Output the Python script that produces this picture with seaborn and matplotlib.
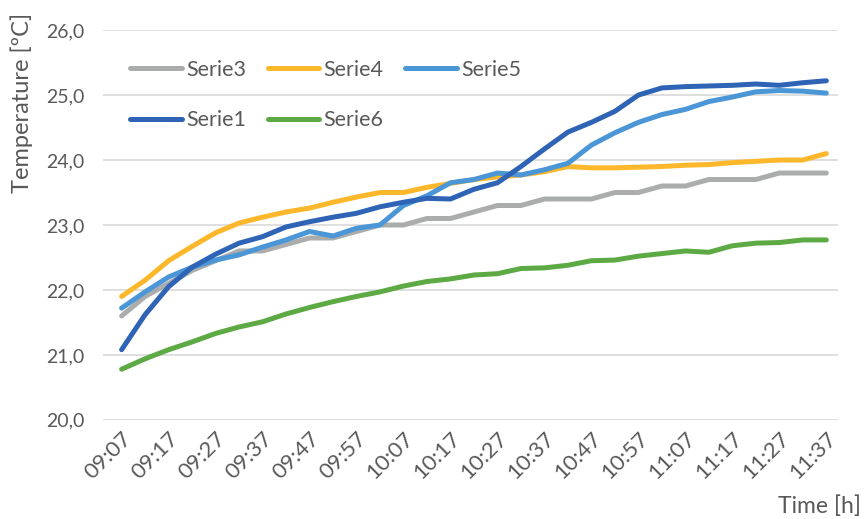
import pandas as pd
import matplotlib
matplotlib.use("Agg")
import matplotlib.pyplot as plt
import seaborn as sns
from matplotlib.ticker import FuncFormatter

# time stamps (every 5 minutes)
times = ["09:07", "09:12", "09:17", "09:22", "09:27", "09:32", "09:37", "09:42",
         "09:47", "09:52", "09:57", "10:02", "10:07", "10:12", "10:17", "10:22",
         "10:27", "10:32", "10:37", "10:42", "10:47", "10:52", "10:57", "11:02",
         "11:07", "11:12", "11:17", "11:22", "11:27", "11:32", "11:37"]

serie3 = [21.6, 21.9, 22.1, 22.3, 22.45, 22.6, 22.6, 22.7, 22.8, 22.8, 22.9, 23.0,
          23.0, 23.1, 23.1, 23.2, 23.3, 23.3, 23.4, 23.4, 23.4, 23.5, 23.5, 23.6,
          23.6, 23.7, 23.7, 23.7, 23.8, 23.8, 23.8]
serie4 = [21.9, 22.15, 22.45, 22.67, 22.88, 23.03, 23.12, 23.2, 23.26, 23.35, 23.43,
          23.5, 23.5, 23.58, 23.64, 23.7, 23.74, 23.77, 23.82, 23.9, 23.88, 23.88,
          23.89, 23.9, 23.92, 23.93, 23.96, 23.98, 24.0, 24.0, 24.1]
serie5 = [21.72, 21.97, 22.2, 22.35, 22.46, 22.54, 22.66, 22.77, 22.9, 22.83, 22.95,
          23.0, 23.3, 23.45, 23.65, 23.7, 23.8, 23.77, 23.85, 23.95, 24.23, 24.42,
          24.58, 24.7, 24.78, 24.9, 24.97, 25.05, 25.07, 25.06, 25.03]
serie1 = [21.08, 21.62, 22.05, 22.35, 22.55, 22.72, 22.82, 22.97, 23.05, 23.12, 23.18,
          23.28, 23.35, 23.41, 23.4, 23.55, 23.65, 23.9, 24.17, 24.43, 24.58, 24.75,
          25.0, 25.11, 25.13, 25.14, 25.15, 25.17, 25.15, 25.19, 25.22]
serie6 = [20.78, 20.94, 21.08, 21.2, 21.33, 21.43, 21.51, 21.63, 21.73, 21.82, 21.9,
          21.97, 22.06, 22.13, 22.17, 22.23, 22.25, 22.33, 22.34, 22.38, 22.45, 22.46,
          22.52, 22.56, 22.6, 22.58, 22.68, 22.72, 22.73, 22.77, 22.77]

series_names = ["Serie3", "Serie4", "Serie5", "Serie1", "Serie6"]
colors = {"Serie3": "#ABADAD", "Serie4": "#FDB72A", "Serie5": "#4A96D6",
          "Serie1": "#2E63B5", "Serie6": "#5DAA45"}

rows = []
for name, vals in zip(series_names, [serie3, serie4, serie5, serie1, serie6]):
    for i, v in enumerate(vals):
        rows.append({"pos": i, "time": times[i], "temp": v, "serie": name})
df = pd.DataFrame(rows)

sns.set_style("white")
plt.rcParams["font.family"] = ["Lato", "DejaVu Sans"]
txt = "#595959"

fig = plt.figure(figsize=(8.64, 5.19), dpi=100)
ax = fig.add_axes([0.119, 0.191, 0.851, 0.751])

sns.lineplot(data=df, x="pos", y="temp", hue="serie", hue_order=series_names,
             palette=colors, linewidth=3.6, ax=ax, legend=False,
             solid_capstyle="round", solid_joinstyle="round")

ax.set_ylim(20, 26)
ax.set_xlim(-0.8, 30.5)
ax.set_yticks([20, 21, 22, 23, 24, 25, 26])
ax.yaxis.set_major_formatter(FuncFormatter(lambda v, p: f"{v:.1f}".replace(".", ",")))
ax.set_xticks(range(0, len(times), 2))
ax.set_xticklabels(times[::2], rotation=45, ha="right", rotation_mode="anchor")
ax.grid(axis="y", color="#D9D9D9", linewidth=1.2)
ax.grid(axis="x", visible=False)
for s in ax.spines.values():
    s.set_visible(False)
ax.tick_params(axis="both", length=0, colors=txt)
ax.tick_params(axis="y", pad=13, labelsize=14)
ax.tick_params(axis="x", pad=6, labelsize=16)

ax.set_xlabel("")
ax.set_ylabel("")
fig.text(22 / 864, 1 - 103 / 519, "Temperature [ºC]", rotation=90, ha="center",
         va="center", fontsize=17, color=txt)
fig.text(861 / 864, 1 - 506 / 519, "Time [h]", ha="right", va="center",
         fontsize=16.5, color=txt)

# legend, row-major order via column fill
order = ["Serie3", "Serie1", "Serie4", "Serie6", "Serie5"]
handles = [plt.Line2D([], [], color=colors[n], linewidth=3.6, solid_capstyle="round")
           for n in order]
leg = ax.legend(handles, order, ncol=3, loc="upper left", bbox_to_anchor=(0.011, 0.973),
                frameon=False, fontsize=15.5, handlelength=2.4, handletextpad=0.2,
                columnspacing=1.0, labelspacing=1.4)
for t in leg.get_texts():
    t.set_color(txt)

fig.savefig("out.png", dpi=100)
